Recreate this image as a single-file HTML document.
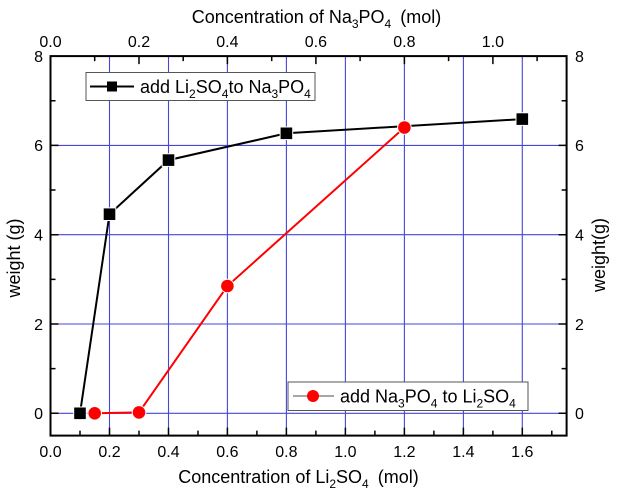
<!DOCTYPE html>
<html><head><meta charset="utf-8"><style>
html,body{margin:0;padding:0;background:#fff;}
svg{display:block;font-family:"Liberation Sans",Arial,sans-serif;}
</style></head><body>
<svg width="618" height="500" viewBox="0 0 618 500" xmlns="http://www.w3.org/2000/svg">
<rect width="618" height="500" fill="#fff"/>
<!-- gridlines -->
<g stroke="#4646dc" stroke-width="1.1">
<line x1="109.5" y1="56.1" x2="109.5" y2="435.6"/>
<line x1="168.5" y1="56.1" x2="168.5" y2="435.6"/>
<line x1="227.4" y1="56.1" x2="227.4" y2="435.6"/>
<line x1="286.4" y1="56.1" x2="286.4" y2="435.6"/>
<line x1="345.4" y1="56.1" x2="345.4" y2="435.6"/>
<line x1="404.4" y1="56.1" x2="404.4" y2="435.6"/>
<line x1="463.4" y1="56.1" x2="463.4" y2="435.6"/>
<line x1="522.3" y1="56.1" x2="522.3" y2="435.6"/>
<line x1="50.5" y1="413.3" x2="566.6" y2="413.3"/>
<line x1="50.5" y1="324.0" x2="566.6" y2="324.0"/>
<line x1="50.5" y1="234.7" x2="566.6" y2="234.7"/>
<line x1="50.5" y1="145.4" x2="566.6" y2="145.4"/>
</g>
<!-- ticks -->
<g stroke="#000" stroke-width="1.5">
<!-- bottom majors -->
<path d="M109.5 435.6v-8M168.5 435.6v-8M227.4 435.6v-8M286.4 435.6v-8M345.4 435.6v-8M404.4 435.6v-8M463.4 435.6v-8M522.3 435.6v-8"/>
<!-- bottom minors -->
<path d="M80 435.6v-5M139 435.6v-5M198 435.6v-5M256.9 435.6v-5M315.9 435.6v-5M374.9 435.6v-5M433.9 435.6v-5M492.9 435.6v-5M551.8 435.6v-5"/>
<!-- top majors -->
<path d="M139 56.1v8M227.4 56.1v8M315.9 56.1v8M404.4 56.1v8M492.9 56.1v8"/>
<!-- top minors -->
<path d="M94.7 56.1v5M183.2 56.1v5M271.7 56.1v5M360.1 56.1v5M448.6 56.1v5M537.1 56.1v5"/>
<!-- left -->
<path d="M50.5 413.3h8M50.5 324h8M50.5 234.7h8M50.5 145.4h8"/>
<path d="M50.5 368.65h5M50.5 279.35h5M50.5 190.05h5M50.5 100.75h5"/>
<!-- right -->
<path d="M566.6 413.3h-8M566.6 324h-8M566.6 234.7h-8M566.6 145.4h-8"/>
<path d="M566.6 368.65h-5M566.6 279.35h-5M566.6 190.05h-5M566.6 100.75h-5"/>
</g>
<!-- frame -->
<rect x="50.5" y="56.1" width="516.1" height="379.5" fill="none" stroke="#000" stroke-width="2"/>
<!-- series lines -->
<polyline points="80,413.3 109.5,214.2 168.5,160.1 286.4,133.3 522.3,119.1" fill="none" stroke="#000" stroke-width="2"/>
<polyline points="94.7,413.3 139,412.4 227.4,286 404.4,127.5" fill="none" stroke="#ff0000" stroke-width="2"/>
<!-- markers -->
<g fill="#000" stroke="#fff" stroke-width="2" paint-order="stroke">
<rect x="74.2" y="407.5" width="11.6" height="11.6"/>
<rect x="103.7" y="208.4" width="11.6" height="11.6"/>
<rect x="162.7" y="154.3" width="11.6" height="11.6"/>
<rect x="280.6" y="127.5" width="11.6" height="11.6"/>
<rect x="516.5" y="113.3" width="11.6" height="11.6"/>
</g>
<g fill="#ff0000" stroke="#fff" stroke-width="2" paint-order="stroke">
<circle cx="94.7" cy="413.3" r="6.3"/>
<circle cx="139" cy="412.4" r="6.3"/>
<circle cx="227.4" cy="286" r="6.3"/>
<circle cx="404.4" cy="127.5" r="6.3"/>
</g>
<!-- tick labels -->
<g font-size="16" fill="#000" text-anchor="middle">
<text x="50.5" y="457">0.0</text>
<text x="109.5" y="457">0.2</text>
<text x="168.5" y="457">0.4</text>
<text x="227.4" y="457">0.6</text>
<text x="286.4" y="457">0.8</text>
<text x="345.4" y="457">1.0</text>
<text x="404.4" y="457">1.2</text>
<text x="463.4" y="457">1.4</text>
<text x="522.3" y="457">1.6</text>
<text x="50.5" y="47">0.0</text>
<text x="139" y="47">0.2</text>
<text x="227.4" y="47">0.4</text>
<text x="315.9" y="47">0.6</text>
<text x="404.4" y="47">0.8</text>
<text x="492.9" y="47">1.0</text>
</g>
<g font-size="16" fill="#000" text-anchor="end">
<text x="43" y="419">0</text>
<text x="43" y="330">2</text>
<text x="43" y="240.5">4</text>
<text x="43" y="151.2">6</text>
<text x="43" y="62">8</text>
</g>
<g font-size="16" fill="#000" text-anchor="start">
<text x="575" y="419">0</text>
<text x="575" y="330">2</text>
<text x="575" y="240.5">4</text>
<text x="575" y="151.2">6</text>
<text x="575" y="62">8</text>
</g>
<!-- axis titles -->
<text x="316.5" y="23" font-size="18" text-anchor="middle">Concentration of Na<tspan font-size="12" dy="5">3</tspan><tspan dy="-5">PO</tspan><tspan font-size="12" dy="5">4</tspan><tspan dy="-5" dx="9">(mol)</tspan></text>
<text x="298.5" y="483" font-size="18" text-anchor="middle">Concentration of Li<tspan font-size="12" dy="5">2</tspan><tspan dy="-5">SO</tspan><tspan font-size="12" dy="5">4</tspan><tspan dy="-5" dx="9">(mol)</tspan></text>
<text transform="translate(20,258) rotate(-90)" font-size="18" text-anchor="middle">weight (g)</text>
<text transform="translate(605,255) rotate(-90)" font-size="18" text-anchor="middle">weight(g)</text>
<!-- legend 1 -->
<rect x="86" y="72.5" width="229" height="28" fill="#fff" stroke="#555" stroke-width="1"/>
<line x1="90" y1="86.5" x2="134" y2="86.5" stroke="#000" stroke-width="2"/>
<rect x="107" y="81.5" width="10" height="10" fill="#000"/>
<text x="140" y="93" font-size="18">add Li<tspan font-size="12" dy="5">2</tspan><tspan dy="-5">SO</tspan><tspan font-size="12" dy="5">4</tspan><tspan dy="-5">to Na</tspan><tspan font-size="12" dy="5">3</tspan><tspan dy="-5">PO</tspan><tspan font-size="12" dy="5">4</tspan></text>
<!-- legend 2 -->
<rect x="288" y="382" width="240" height="28.5" fill="#fff" stroke="#555" stroke-width="1"/>
<line x1="293" y1="396" x2="334" y2="396" stroke="#888" stroke-width="1.5"/>
<circle cx="313" cy="396" r="6" fill="#ff0000"/>
<text x="340" y="402.5" font-size="18">add Na<tspan font-size="12" dy="5">3</tspan><tspan dy="-5">PO</tspan><tspan font-size="12" dy="5">4</tspan><tspan dy="-5"> to Li</tspan><tspan font-size="12" dy="5">2</tspan><tspan dy="-5">SO</tspan><tspan font-size="12" dy="5">4</tspan></text>
</svg>
</body></html>
